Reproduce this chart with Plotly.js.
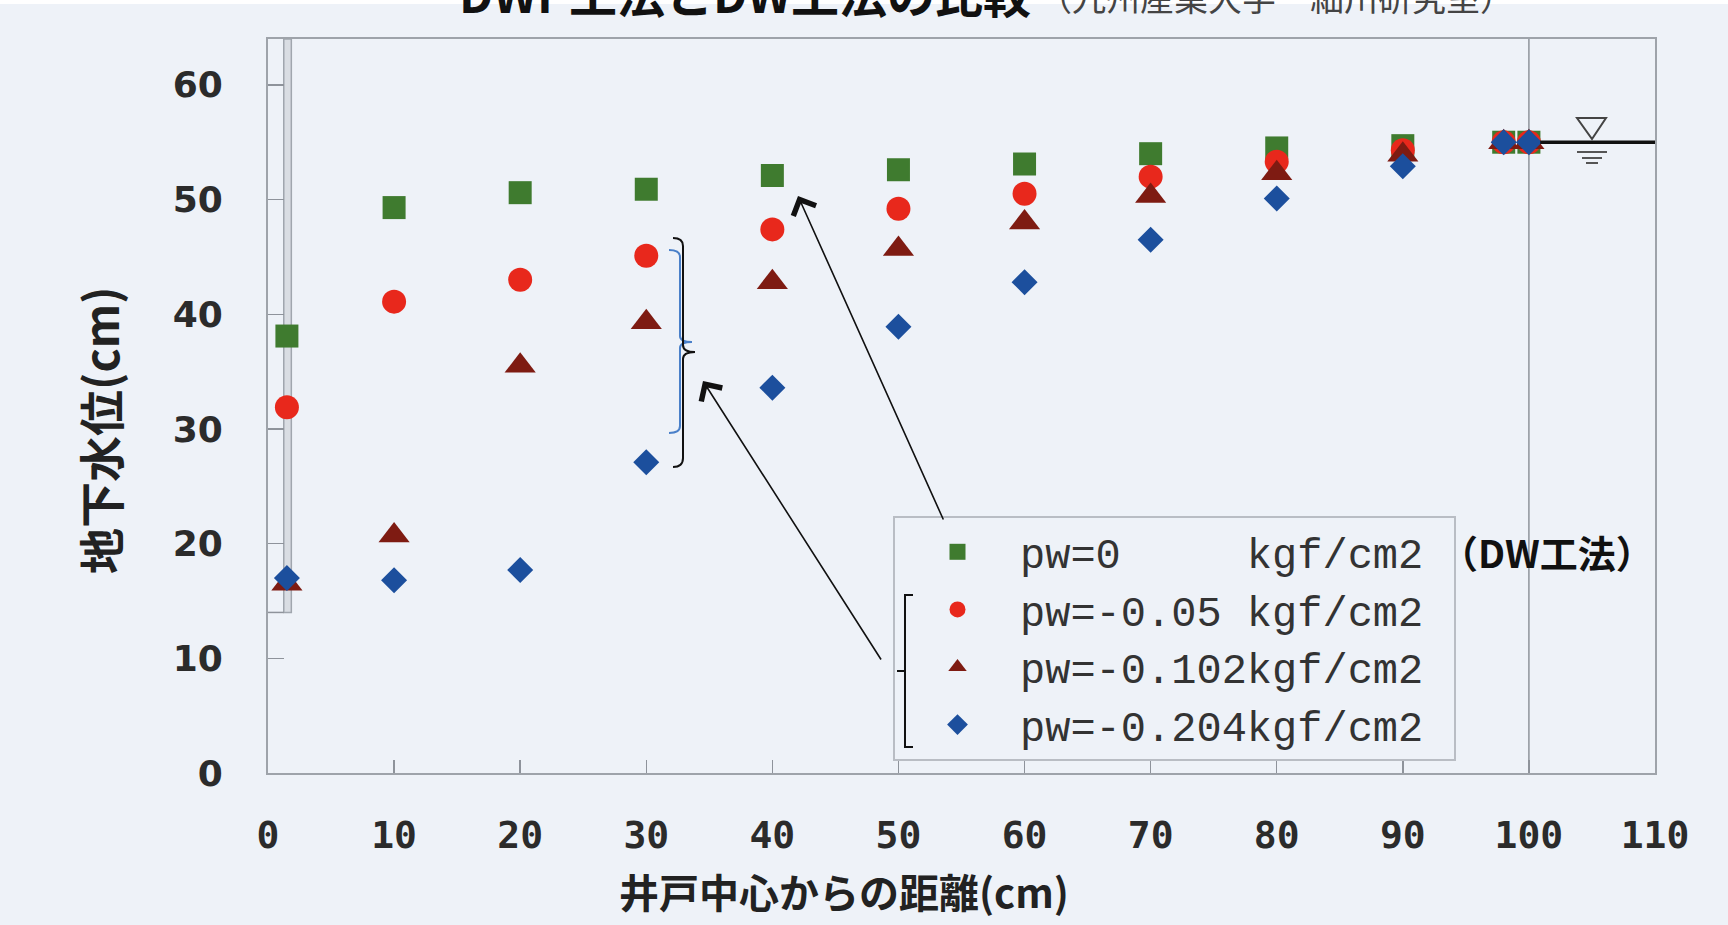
<!DOCTYPE html>
<html>
<head>
<meta charset="utf-8">
<script src="https://cdn.plot.ly/plotly-3.0.1.min.js"></script>
<style>
  html, body { margin: 0; padding: 0; background: #eef2f8; }
  #chart { width: 1728px; height: 925px; }
</style>
</head>
<body>
<div id="chart"></div>
<script>
// ---- data ----
const distance = [1.5, 10, 20, 30, 40, 50, 60, 70, 80, 90, 98, 100];
const pw0      = [38.1, 49.3, 50.6, 50.9, 52.1, 52.6, 53.1, 54.0, 54.5, 54.7, 55.0, 55.0];
const pw005    = [31.9, 41.1, 43.0, 45.1, 47.4, 49.2, 50.5, 52.0, 53.3, 54.3, 55.0, 55.0];
const pw0102   = [16.5, 20.7, 35.5, 39.3, 42.8, 45.7, 48.0, 50.3, 52.3, 53.9, 55.0, 55.0];
const pw0204   = [17.0, 16.8, 17.7, 27.1, 33.6, 38.9, 42.8, 46.5, 50.1, 52.9, 55.0, 55.0];
const seriesNames = [
  "pw=0\u00A0\u00A0\u00A0\u00A0\u00A0kgf/cm2\u00A0",
  "pw=-0.05\u00A0kgf/cm2\u00A0",
  "pw=-0.102kgf/cm2\u00A0",
  "pw=-0.204kgf/cm2\u00A0"
];
const xTicks = [0, 10, 20, 30, 40, 50, 60, 70, 80, 90, 100, 110];
const yTicks = [0, 10, 20, 30, 40, 50, 60];

// ---- geometry helpers (pixel -> paper) ----
const L = 268, R = 1655, T = 39, B = 773;
const px = x => (x - L) / (R - L);
const py = y => (B - y) / (B - T);
const P = (x, y) => px(x).toFixed(5) + "," + py(y).toFixed(5);

const cjk = "Noto Sans CJK JP";

const traces = [
  { x: distance, y: pw0, name: seriesNames[0], type: "scatter", mode: "markers",
    marker: { symbol: "square", size: 23, color: "#3f7b2f" } },
  { x: distance, y: pw005, name: seriesNames[1], type: "scatter", mode: "markers",
    marker: { symbol: "circle", size: 24, color: "#e8281c" } },
  { x: distance, y: pw0102, name: seriesNames[2], type: "scatter", mode: "markers",
    marker: { symbol: "triangle-up", size: 27, color: "#7e1b12" } },
  { x: distance, y: pw0204, name: seriesNames[3], type: "scatter", mode: "markers",
    marker: { symbol: "diamond", size: 20, color: "#1c4f9d" } }
];

const bracketBlack =
  "M " + P(673, 238) + " Q " + P(683, 238) + " " + P(683, 246) +
  " L " + P(683, 345) + " Q " + P(683, 352) + " " + P(695, 352) +
  " Q " + P(683, 352) + " " + P(683, 359) +
  " L " + P(683, 458) + " Q " + P(683, 467) + " " + P(673, 467);
const bracketBlue =
  "M " + P(669, 250) + " Q " + P(680, 250) + " " + P(680, 257) +
  " L " + P(680, 336) + " Q " + P(680, 342) + " " + P(692, 342) +
  " Q " + P(680, 342) + " " + P(680, 348) +
  " L " + P(680, 426) + " Q " + P(680, 433) + " " + P(669, 433);
const bracketLegend =
  "M " + P(913, 595) + " L " + P(905, 595) + " L " + P(905, 671) +
  " L " + P(897, 671) + " L " + P(905, 671) + " L " + P(905, 747) + " L " + P(913, 747);
const waterTri = "M " + P(1577, 118) + " L " + P(1606, 118) + " L " + P(1592, 139) + " Z";

const shapes = [
  // white strip at very top
  { type: "rect", xref: "paper", yref: "paper", x0: px(0), x1: px(1728), y0: py(4), y1: py(-2),
    fillcolor: "#ffffff", line: { width: 0 }, layer: "below" },
  // well wall
  { type: "rect", xref: "x", yref: "y", x0: 1.25, x1: 1.85, y0: 14, y1: 64,
    fillcolor: "#d9dde3", line: { color: "#a0a6ae", width: 1.5 }, layer: "below" },
  { type: "line", xref: "x", yref: "y", x0: 0, x1: 1.25, y0: 14, y1: 14,
    line: { color: "#8e939b", width: 1.5 }, layer: "below" },
  // vertical line at 100 cm
  { type: "line", xref: "x", yref: "paper", x0: 100, x1: 100, y0: 0, y1: 1,
    line: { color: "#8e939b", width: 1.5 }, layer: "below" },
  // water level line
  { type: "line", xref: "x", yref: "y", x0: 100.9, x1: 110, y0: 55, y1: 55,
    line: { color: "#111111", width: 3.5 } },
  { type: "path", xref: "paper", yref: "paper", path: waterTri,
    line: { color: "#444444", width: 2 }, fillcolor: "rgba(0,0,0,0)" },
  { type: "line", xref: "paper", yref: "paper", x0: px(1577), x1: px(1607), y0: py(152), y1: py(152),
    line: { color: "#555555", width: 2 } },
  { type: "line", xref: "paper", yref: "paper", x0: px(1582), x1: px(1602), y0: py(158), y1: py(158),
    line: { color: "#555555", width: 2 } },
  { type: "line", xref: "paper", yref: "paper", x0: px(1586), x1: px(1598), y0: py(163), y1: py(163),
    line: { color: "#555555", width: 2 } },
  // brackets
  { type: "path", xref: "paper", yref: "paper", path: bracketBlue,
    line: { color: "#4a80c9", width: 2 } },
  { type: "path", xref: "paper", yref: "paper", path: bracketBlack,
    line: { color: "#111111", width: 2 } },
  { type: "path", xref: "paper", yref: "paper", path: bracketLegend,
    line: { color: "#111111", width: 2 } }
];

const annotations = [
  { xref: "paper", yref: "paper", x: px(457), y: py(-8), xanchor: "left", yanchor: "middle",
    text: "<b>DWP工法とDW工法の比較</b>", showarrow: false,
    font: { family: cjk, size: 48, color: "#111111" } },
  { xref: "paper", yref: "paper", x: px(1036), y: py(-4), xanchor: "left", yanchor: "middle",
    text: "（九州産業大学　細川研究室）", showarrow: false,
    font: { family: cjk, size: 34, color: "#444444" } },
  { xref: "paper", yref: "paper", x: px(1656), y: py(551), xanchor: "right", yanchor: "middle",
    text: "<b>（DW工法）</b>", showarrow: false,
    font: { family: cjk, size: 38, color: "#111111" } },
  { xref: "paper", yref: "paper", x: px(99), y: py(431), xanchor: "center", yanchor: "middle",
    text: "<b>地下水位(cm)</b>", textangle: -90, showarrow: false,
    font: { family: cjk, size: 46, color: "#222222" } },
  { xref: "paper", yref: "paper", x: px(844), y: py(891), xanchor: "center", yanchor: "middle",
    text: "<b>井戸中心からの距離(cm)</b>", showarrow: false,
    font: { family: cjk, size: 40, color: "#222222" } },
  // arrows
  { xref: "paper", yref: "paper", x: px(798), y: py(196), ax: 146, ay: 325, text: "",
    showarrow: true, arrowhead: 4, arrowsize: 3, arrowwidth: 1.6, arrowcolor: "#111111" },
  { xref: "paper", yref: "paper", x: px(703), y: py(381), ax: 179, ay: 280, text: "",
    showarrow: true, arrowhead: 4, arrowsize: 3, arrowwidth: 1.6, arrowcolor: "#111111" }
];

const layout = {
  width: 1728, height: 925,
  paper_bgcolor: "#eef2f8", plot_bgcolor: "#eef2f8",
  margin: { l: L, r: 1728 - R, t: T, b: 925 - B, pad: 0 },
  showlegend: true,
  legend: {
    x: px(893), y: py(516), xanchor: "left", yanchor: "top",
    bgcolor: "rgba(0,0,0,0)", bordercolor: "#b9bdc4", borderwidth: 2,
    font: { family: "Liberation Mono", size: 42, color: "#333333" },
    itemsizing: "trace", itemwidth: 115, traceorder: "normal"
  },
  xaxis: {
    range: [0, 110], tickvals: xTicks, ticktext: xTicks.map(String),
    ticks: "inside", ticklen: 13, tickwidth: 1.5, tickcolor: "#8e939b",
    showline: true, mirror: true, linecolor: "#9ea3aa", linewidth: 2,
    showgrid: false, zeroline: false, ticklabelstandoff: 27,
    tickfont: { family: "DejaVu Sans Mono", size: 38, color: "#2b2b2b", weight: "bold" }
  },
  yaxis: {
    range: [0, 64], tickvals: yTicks, ticktext: yTicks.map(String),
    ticks: "inside", ticklen: 16, tickwidth: 1.5, tickcolor: "#8e939b",
    showline: true, mirror: true, linecolor: "#9ea3aa", linewidth: 2,
    showgrid: false, zeroline: false, ticklabelstandoff: 36,
    tickfont: { family: "DejaVu Sans", size: 36, color: "#2b2b2b", weight: "bold" }
  },
  shapes: shapes,
  annotations: annotations,
  hovermode: false
};

Plotly.newPlot("chart", traces, layout, { staticPlot: true, displayModeBar: false });
</script>
</body>
</html>
